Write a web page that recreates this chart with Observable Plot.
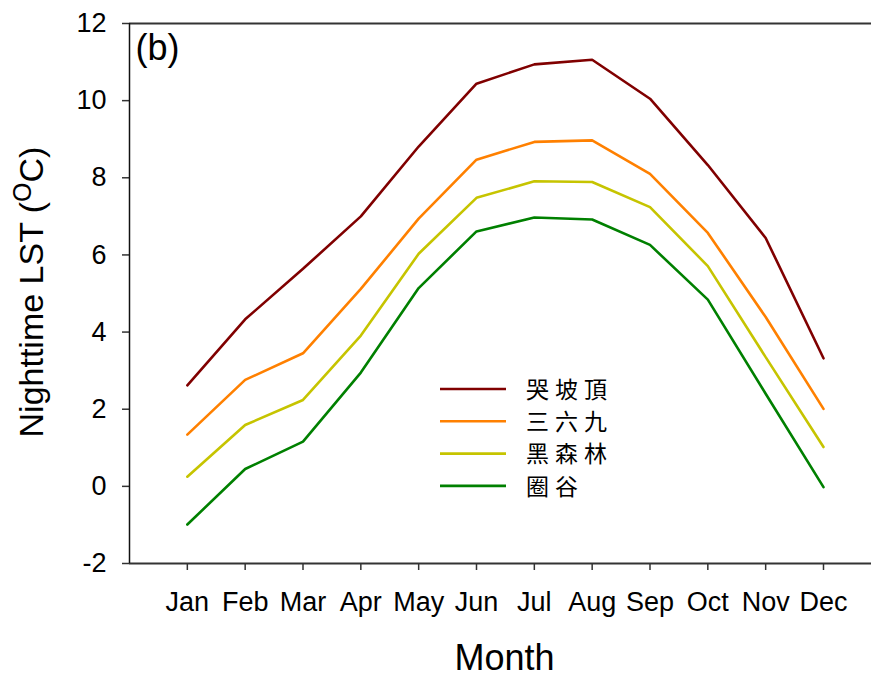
<!DOCTYPE html>
<html>
<head>
<meta charset="utf-8">
<script src="https://cdn.jsdelivr.net/npm/d3@7"></script>
<script src="https://cdn.jsdelivr.net/npm/@observablehq/plot@0.6"></script>
<style>
  html, body { margin: 0; padding: 0; background: #fff; }
  #chart { position: relative; width: 871px; height: 678px; }
</style>
</head>
<body>
<div id="chart"></div>
<script>
const months = ["Jan","Feb","Mar","Apr","May","Jun","Jul","Aug","Sep","Oct","Nov","Dec"];
const seriesNames = ["哭坡頂", "三六九", "黑森林", "圈谷"];
const seriesColors = ["#800000", "#ff8000", "#c6c400", "#008000"];
const kupoding = [2.62, 4.33, 5.64, 7.00, 8.81, 10.44, 10.94, 11.06, 10.05, 8.33, 6.44, 3.32];
const sanliujiu = [1.34, 2.76, 3.45, 5.12, 6.94, 8.47, 8.93, 8.97, 8.10, 6.57, 4.39, 2.01];
const heisenlin = [0.25, 1.59, 2.24, 3.91, 6.03, 7.48, 7.91, 7.89, 7.24, 5.71, 3.35, 1.02];
const quangu = [-0.99, 0.45, 1.16, 2.95, 5.14, 6.61, 6.97, 6.92, 6.26, 4.84, 2.40, -0.02];
const yTicks = [-2, 0, 2, 4, 6, 8, 10, 12];
const panelLabel = "(b)";
const xTitle = "Month";

const seriesValues = [kupoding, sanliujiu, heisenlin, quangu];
const data = [];
seriesNames.forEach((name, i) => {
  seriesValues[i].forEach((v, j) => data.push({series: name, month: j + 1, value: v}));
});

const font = "'Liberation Sans', Arial, sans-serif";
const axisColor = "#333";

const svg = Plot.plot({
  width: 871,
  height: 678,
  marginLeft: 129,
  marginRight: 0,
  marginTop: 23,
  marginBottom: 115,
  style: {fontFamily: font, background: "#fff", color: "#000", overflow: "visible"},
  x: {type: "linear", domain: [0, 12.83], axis: null},
  y: {domain: [-2, 12], axis: null},
  color: {domain: seriesNames, range: seriesColors},
  marks: [
    Plot.axisY(yTicks, {tickSize: 7, tickPadding: 16, fontSize: 27, stroke: axisColor, strokeWidth: 1.5, label: null,
      tickFormat: d => String(d)}),
    Plot.axisX(d3.range(1, 13), {tickSize: 7, tickPadding: 21, fontSize: 27, stroke: axisColor, strokeWidth: 1.5,
      tickFormat: d => months[d - 1], label: null}),
    Plot.ruleY([yTicks[0], yTicks[yTicks.length - 1]], {stroke: axisColor, strokeWidth: 2}),
    Plot.ruleX([0], {stroke: "#111", strokeWidth: 1.5}),
    Plot.line(data, {x: "month", y: "value", z: "series", stroke: "series", strokeWidth: 2.6, strokeLinejoin: "miter"}),
    Plot.text([panelLabel], {frameAnchor: "top-left", dx: 6, dy: 25, textAnchor: "start", lineAnchor: "middle", fontSize: 36, fill: "#000"}),
    Plot.text([xTitle], {frameAnchor: "bottom", dx: 4, dy: 95, lineAnchor: "middle", fontSize: 36, fill: "#000"})
  ]
});

const s = d3.select(svg);

// Y title with superscript
const yt = s.append("text")
  .attr("transform", "translate(43,292) rotate(-90)")
  .attr("text-anchor", "middle")
  .attr("font-family", font)
  .attr("font-size", 34)
  .attr("fill", "#000");
yt.append("tspan").text("Nighttime LST (");
yt.append("tspan").attr("font-size", 25).attr("dy", -12).text("O");
yt.append("tspan").attr("dy", 12).text("C)");

// Legend
const lg = s.append("g").attr("text-anchor", "start");
seriesNames.forEach((name, i) => {
  const y = 389 + i * 32.3;
  lg.append("line").attr("x1", 440).attr("x2", 506).attr("y1", y).attr("y2", y)
    .attr("stroke", seriesColors[i]).attr("stroke-width", 2.6);
  lg.append("text").attr("x", 526).attr("y", y).attr("dy", "0.38em")
    .attr("text-anchor", "start")
    .attr("font-family", "'Noto Sans CJK TC', 'Noto Sans CJK SC', sans-serif")
    .attr("font-size", 23).attr("letter-spacing", "6px").attr("fill", "#000")
    .text(name);
});

document.getElementById("chart").appendChild(svg);
</script>
</body>
</html>
